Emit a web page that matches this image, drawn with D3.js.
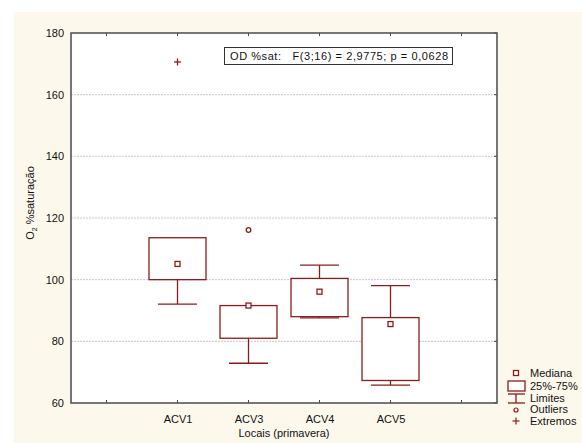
<!DOCTYPE html>
<html><head><meta charset="utf-8">
<script src="https://cdn.jsdelivr.net/npm/d3@7"></script>
<style>body{margin:0;background:#fff}svg{display:block;font-family:"Liberation Sans",Arial,sans-serif}</style>
</head><body><svg id="c" width="582" height="443"></svg>
<script>
const categories = ["", "ACV1", "ACV3", "ACV4", "ACV5", ""];
const boxCats = ["ACV1", "ACV3", "ACV4", "ACV5"];
const medians = [105.1, 91.6, 96.1, 85.6];
const q1 = [100.0, 81.0, 88.0, 67.3];
const q3 = [113.6, 91.6, 100.4, 87.7];
const whiskLow = [92.1, 72.9, 87.6, 65.8];
const whiskHigh = [113.6, 91.6, 104.7, 98.1];
const outliers = [[], [116.1], [], []];
const extremes = [[170.6], [], [], []];
const yTicks = [60, 80, 100, 120, 140, 160, 180];
const legendLabels = ["Mediana", "25%-75%", "Limites", "Outliers", "Extremos"];
const annotation = "OD %sat:   F(3;16) = 2,9775; p = 0,0628";

const svg = d3.select("#c");
const W = 582, H = 443;
const red = "#8e1b1b";
const L = 71, R = 497, T = 33, B = 403;

svg.append("rect").attr("x", 14).attr("y", 12).attr("width", W - 14).attr("height", H - 12).attr("fill", "#fdf8ec");
svg.append("rect").attr("x", L).attr("y", T).attr("width", R - L).attr("height", B - T).attr("fill", "#fff");

const x = d3.scalePoint().domain(d3.range(categories.length)).range([L, R]).padding(0.5);
const y = d3.scaleLinear().domain([60, 180]).range([B, T]);

// grid
svg.append("g").selectAll("line").data(yTicks.filter(t => t > 60 && t < 180)).join("line")
  .attr("x1", L).attr("x2", R).attr("y1", d => y(d)).attr("y2", d => y(d))
  .attr("stroke", "#c8c8c8").attr("stroke-dasharray", "2,1").attr("stroke-width", 1);

// axes
const axL = d3.axisLeft(y).tickValues(yTicks).tickSize(0).tickPadding(7);
const gl = svg.append("g").attr("transform", `translate(${L},0)`).call(axL);
gl.select(".domain").remove();
gl.selectAll("text").attr("font-size", 11).attr("fill", "#111").attr("font-family", "Liberation Sans, Arial");

const axB = d3.axisBottom(x).tickFormat(i => categories[i]).tickSize(0).tickPadding(12);
const gb = svg.append("g").attr("transform", `translate(0,${B})`).call(axB);
gb.select(".domain").remove();
gb.selectAll("text").attr("font-size", 11).attr("fill", "#111").attr("font-family", "Liberation Sans, Arial");

// inward ticks
const tk = svg.append("g").attr("stroke", "#444").attr("stroke-width", 1);
d3.range(categories.length).forEach(i => {
  tk.append("line").attr("x1", x(i)).attr("x2", x(i)).attr("y1", T).attr("y2", T + 3);
  tk.append("line").attr("x1", x(i)).attr("x2", x(i)).attr("y1", B).attr("y2", B - 3);
});
yTicks.forEach(t => {
  tk.append("line").attr("x1", R).attr("x2", R - 3).attr("y1", y(t)).attr("y2", y(t));
});

// frame
svg.append("rect").attr("x", L).attr("y", T).attr("width", R - L).attr("height", B - T)
  .attr("fill", "none").attr("stroke", "#555").attr("stroke-width", 1.6);

// boxes
const bw = 57, cw = 39;
const g = svg.append("g").attr("stroke", red).attr("fill", "none").attr("stroke-width", 1.3);
boxCats.forEach((c, k) => {
  const cx = x(categories.indexOf(c));
  if (whiskHigh[k] > q3[k]) {
    g.append("line").attr("x1", cx).attr("x2", cx).attr("y1", y(q3[k])).attr("y2", y(whiskHigh[k]));
    g.append("line").attr("x1", cx - cw / 2).attr("x2", cx + cw / 2).attr("y1", y(whiskHigh[k])).attr("y2", y(whiskHigh[k]));
  }
  g.append("line").attr("x1", cx).attr("x2", cx).attr("y1", y(q1[k])).attr("y2", y(whiskLow[k]));
  g.append("line").attr("x1", cx - cw / 2).attr("x2", cx + cw / 2).attr("y1", y(whiskLow[k])).attr("y2", y(whiskLow[k]));
  g.append("rect").attr("x", cx - bw / 2).attr("y", y(q3[k])).attr("width", bw).attr("height", y(q1[k]) - y(q3[k])).attr("fill", "#fff");
  g.append("rect").attr("x", cx - 2.5).attr("y", y(medians[k]) - 2.5).attr("width", 5).attr("height", 5).attr("fill", "#fff");
  outliers[k].forEach(v => g.append("circle").attr("cx", cx).attr("cy", y(v)).attr("r", 2.3).attr("fill", "#fff"));
  extremes[k].forEach(v => {
    g.append("line").attr("x1", cx - 3.5).attr("x2", cx + 3.5).attr("y1", y(v)).attr("y2", y(v));
    g.append("line").attr("x1", cx).attr("x2", cx).attr("y1", y(v) - 3.5).attr("y2", y(v) + 3.5);
  });
});

// annotation box
svg.append("rect").attr("x", 224.5).attr("y", 47.5).attr("width", 228).attr("height", 17)
  .attr("fill", "#fff").attr("stroke", "#333").attr("stroke-width", 1);
svg.append("text").attr("x", 230).attr("y", 60).attr("font-size", 11).attr("fill", "#111")
  .attr("textLength", 218).attr("lengthAdjust", "spacing")
  .attr("xml:space", "preserve").style("white-space", "pre").text(annotation);

// axis titles
svg.append("text").attr("x", (L + R) / 2).attr("y", 437).attr("text-anchor", "middle")
  .attr("font-size", 11).attr("fill", "#111").text("Locais (primavera)");
const yt = svg.append("text").attr("transform", "translate(34,203) rotate(-90)").attr("text-anchor", "middle")
  .attr("font-size", 11).attr("fill", "#111");
yt.append("tspan").text("O");
yt.append("tspan").attr("font-size", 7).attr("dy", 3).text("2");
yt.append("tspan").attr("dy", -3).text(" %saturação");

// legend
const lg = svg.append("g");
const lx = 516, ly = [373, 386, 398, 409, 421];
lg.append("rect").attr("x", lx - 2.5).attr("y", ly[0] - 2.5).attr("width", 5).attr("height", 5).attr("fill", "#fff").attr("stroke", red).attr("stroke-width", 1.3);
lg.append("rect").attr("x", lx - 8).attr("y", ly[1] - 5).attr("width", 17).attr("height", 10).attr("fill", "#fff").attr("stroke", red).attr("stroke-width", 1.3);
lg.append("line").attr("x1", lx - 8).attr("x2", lx + 9).attr("y1", ly[2] - 4).attr("y2", ly[2] - 4).attr("stroke", red).attr("stroke-width", 1.3);
lg.append("line").attr("x1", lx - 8).attr("x2", lx + 9).attr("y1", ly[2] + 5).attr("y2", ly[2] + 5).attr("stroke", red).attr("stroke-width", 1.3);
lg.append("line").attr("x1", lx).attr("x2", lx).attr("y1", ly[2] - 4).attr("y2", ly[2] + 5).attr("stroke", red).attr("stroke-width", 1.3);
lg.append("circle").attr("cx", lx).attr("cy", ly[3] + 1).attr("r", 2).attr("fill", "#fff").attr("stroke", red).attr("stroke-width", 1.2);
lg.append("line").attr("x1", lx - 3.5).attr("x2", lx + 3.5).attr("y1", ly[4]).attr("y2", ly[4]).attr("stroke", red).attr("stroke-width", 1.2);
lg.append("line").attr("x1", lx).attr("x2", lx).attr("y1", ly[4] - 3.5).attr("y2", ly[4] + 3.5).attr("stroke", red).attr("stroke-width", 1.2);
legendLabels.forEach((t, i) => {
  lg.append("text").attr("x", 530).attr("y", ly[i] + 4).attr("font-size", 11).attr("fill", "#111").text(t);
});
</script></body></html>
